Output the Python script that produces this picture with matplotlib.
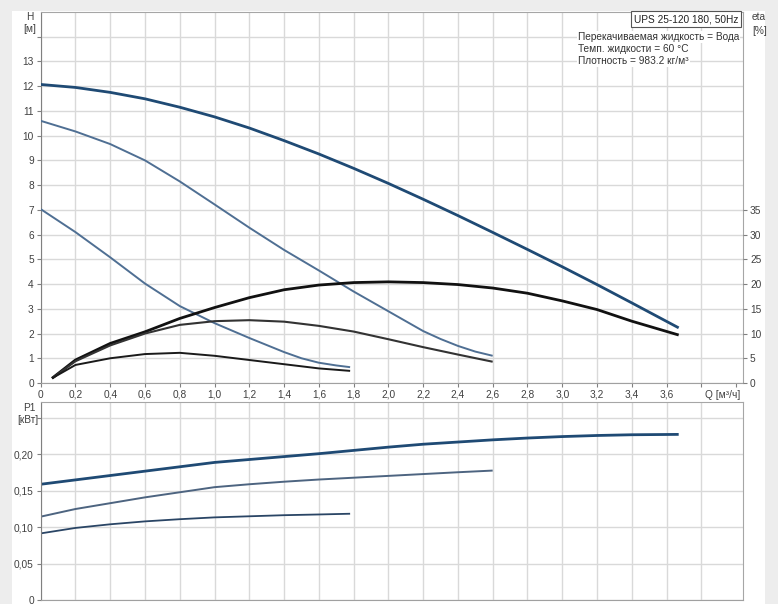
import numpy as np
import matplotlib.pyplot as plt
from matplotlib.patches import Rectangle

plt.rcParams['font.family'] = ['Liberation Sans', 'DejaVu Sans']

# кривые напора H [м] для трех скоростей
q3 = [0, 0.2, 0.4, 0.6, 0.8, 1.0, 1.2, 1.4, 1.6, 1.8, 2.0, 2.2, 2.4, 2.6, 2.8, 3.0, 3.2, 3.4, 3.67]
h3 = [12.07, 11.95, 11.75, 11.49, 11.15, 10.76, 10.31, 9.8, 9.26, 8.68, 8.07, 7.43, 6.77, 6.09, 5.4, 4.7, 3.98, 3.24, 2.23]
q2 = [0, 0.2, 0.4, 0.6, 0.8, 1.0, 1.2, 1.4, 1.6, 1.8, 2.0, 2.2, 2.3, 2.4, 2.5, 2.6]
h2 = [10.6, 10.17, 9.66, 9.0, 8.15, 7.22, 6.28, 5.38, 4.55, 3.7, 2.9, 2.1, 1.78, 1.5, 1.27, 1.1]
q1 = [0, 0.2, 0.4, 0.6, 0.8, 1.0, 1.2, 1.4, 1.5, 1.6, 1.7, 1.78]
h1 = [7.03, 6.1, 5.08, 4.02, 3.11, 2.42, 1.82, 1.25, 1.0, 0.82, 0.71, 0.64]

# КПД eta [%]
qe3 = [0.065, 0.2, 0.4, 0.6, 0.8, 1.0, 1.2, 1.4, 1.6, 1.8, 2.0, 2.2, 2.4, 2.6, 2.8, 3.0, 3.2, 3.4, 3.67]
eta3 = [0.95, 4.65, 8.0, 10.35, 13.05, 15.25, 17.25, 18.85, 19.8, 20.3, 20.45, 20.3, 19.9, 19.2, 18.15, 16.6, 14.85, 12.5, 9.7]
qe2 = [0.065, 0.2, 0.4, 0.6, 0.8, 1.0, 1.2, 1.4, 1.6, 1.8, 2.0, 2.2, 2.4, 2.6]
eta2 = [0.95, 4.4, 7.6, 10.0, 11.75, 12.5, 12.7, 12.4, 11.55, 10.4, 8.85, 7.25, 5.75, 4.3]
qe1 = [0.065, 0.2, 0.4, 0.6, 0.8, 1.0, 1.2, 1.4, 1.6, 1.78]
eta1 = [0.95, 3.65, 5.0, 5.85, 6.1, 5.5, 4.65, 3.8, 2.95, 2.45]

# мощность P1 [кВт]
qp3 = [0, 0.2, 0.4, 0.6, 0.8, 1.0, 1.2, 1.4, 1.6, 1.8, 2.0, 2.2, 2.4, 2.6, 2.8, 3.0, 3.2, 3.4, 3.67]
p3 = [0.159, 0.165, 0.171, 0.177, 0.183, 0.189, 0.193, 0.197, 0.201, 0.2055, 0.21, 0.214, 0.217, 0.22, 0.2225, 0.2245, 0.226, 0.227, 0.2275]
qp2 = [0, 0.2, 0.4, 0.6, 0.8, 1.0, 1.2, 1.4, 1.6, 1.8, 2.0, 2.2, 2.4, 2.6]
p2 = [0.1145, 0.125, 0.133, 0.141, 0.148, 0.155, 0.159, 0.1625, 0.1655, 0.168, 0.1705, 0.173, 0.1755, 0.1778]
qp1 = [0, 0.2, 0.4, 0.6, 0.8, 1.0, 1.2, 1.4, 1.6, 1.78]
p1 = [0.0915, 0.099, 0.104, 0.108, 0.111, 0.1135, 0.115, 0.1165, 0.1175, 0.1185]

W, H = 778, 604
fig = plt.figure(figsize=(W / 100, H / 100), dpi=100, facecolor='#ededed')

def fx(px):
    return px / W

def fy(py):
    return 1 - py / H

# белая подложка
fig.patches.append(Rectangle((fx(12), 0), fx(765) - fx(12), fy(11), transform=fig.transFigure,
                             facecolor='white', edgecolor='none', zorder=-5))

tcol = '#404040'
gcol = '#d9d9d9'
fs = 7.3

ax = fig.add_axes([fx(40.7), fy(383), fx(743) - fx(40.7), fy(12) - fy(383)])
axb = fig.add_axes([fx(40.7), fy(600), fx(743) - fx(40.7), fy(402) - fy(600)])

for a in (ax, axb):
    a.set_xlim(0, 4.04)
    a.set_xticks(np.arange(0, 4.01, 0.2))
    a.grid(True, color=gcol, lw=1.0)
    a.set_axisbelow(True)
    for s in a.spines.values():
        s.set_color('#a6a6a6')
    a.spines['left'].set_color('#808080')
    a.spines['bottom'].set_color('#a0a0a0')
    a.tick_params(colors='#808080', labelcolor=tcol, labelsize=fs, length=3, pad=2)
    a.get_xgridlines()[-1].set_visible(False)

xlabels = [('%.1f' % v).replace('.', ',') if 0 < v < 3.7 else '' for v in np.arange(0, 4.01, 0.2)]
xlabels[0] = '0'
ax.set_xticklabels(xlabels)
axb.set_xticklabels([])
axb.tick_params(axis='x', length=0)

ax.set_ylim(0, 15)
ax.set_yticks(range(0, 15))
ax.set_yticklabels([str(i) for i in range(0, 14)] + [''])

axb.set_ylim(0, 0.272)
axb.set_yticks([0, 0.05, 0.10, 0.15, 0.20, 0.25])
axb.set_yticklabels(['0', '0,05', '0,10', '0,15', '0,20', ''])

ax2 = ax.twinx()
ax2.set_ylim(0, 75)
ax2.set_yticks(range(0, 36, 5))
ax2.tick_params(colors='#808080', labelcolor=tcol, labelsize=fs, length=3, pad=2)
for s in ax2.spines.values():
    s.set_visible(False)

c_dark = '#1f4a74'
c_mid = '#4f6f93'
lk = dict(solid_joinstyle='round', solid_capstyle='butt')

ax.plot(q3, h3, color=c_dark, lw=2.0, zorder=3, **lk)
ax.plot(q2, h2, color=c_mid, lw=1.4, zorder=3, **lk)
ax.plot(q1, h1, color=c_mid, lw=1.4, zorder=3, **lk)

ax2.plot(qe3, eta3, color='#111111', lw=2.0, **lk)
ax2.plot(qe2, eta2, color='#333333', lw=1.5, **lk)
ax2.plot(qe1, eta1, color='#1a1a1a', lw=1.4, **lk)

axb.plot(qp3, p3, color=c_dark, lw=2.0, **lk)
axb.plot(qp2, p2, color='#4d6480', lw=1.4, **lk)
axb.plot(qp1, p1, color='#2a4565', lw=1.3, **lk)

# подписи осей
kw = dict(fontsize=fs, color=tcol, transform=fig.transFigure)
fig.text(fx(30), fy(17), 'H', ha='center', va='center', **kw)
fig.text(fx(30), fy(29), '[м]', ha='center', va='center', **kw)
fig.text(fx(752), fy(17), 'eta', ha='left', va='center', **kw)
fig.text(fx(752), fy(31), '[%]', ha='left', va='center', **kw)
fig.text(fx(740), fy(395), 'Q [м³/ч]', ha='right', va='center', **kw)
fig.text(fx(29), fy(408), 'P1', ha='center', va='center', **kw)
fig.text(fx(28), fy(420), '[кВт]', ha='center', va='center', **kw)

# информационный блок
fig.text(fx(738), fy(19), 'UPS 25-120 180, 50Hz', ha='right', va='center', fontsize=fs, color='#222222',
         bbox=dict(boxstyle='square,pad=0.25', facecolor='white', edgecolor='#555555', lw=0.8))
info = ['Перекачиваемая жидкость = Вода', 'Темп. жидкости = 60 °C', 'Плотность = 983.2 кг/м³']
for i, line in enumerate(info):
    fig.text(fx(578), fy(37 + 12 * i), line, ha='left', va='center', fontsize=fs, color='#333333',
             bbox=dict(boxstyle='square,pad=0.1', facecolor='white', edgecolor='none'))

fig.savefig('out.png', dpi=100, facecolor=fig.get_facecolor())
